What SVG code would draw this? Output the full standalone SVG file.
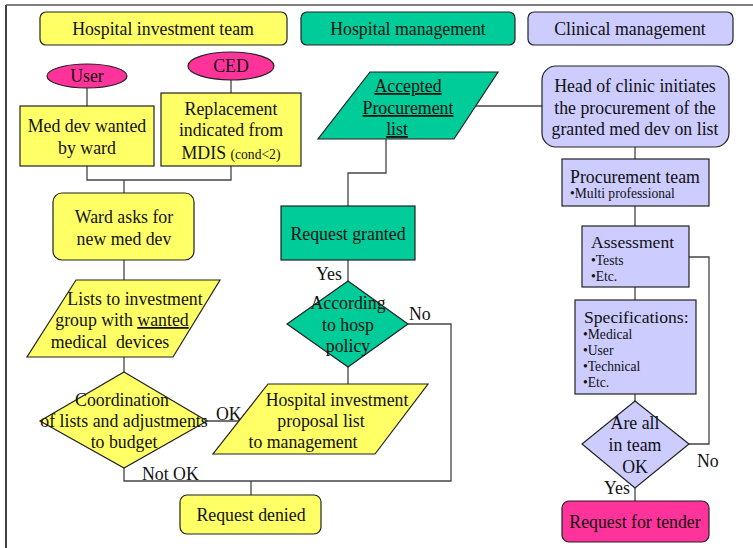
<svg xmlns="http://www.w3.org/2000/svg" width="753" height="548" viewBox="0 0 753 548">
<style>
text{font-family:"Liberation Serif",Tinos,"Times New Roman","DejaVu Serif",serif;font-size:17.8px;fill:#111;}
.c{text-anchor:middle;}
.s{font-size:13.6px;}
.b{font-size:17.6px;}
.yel{fill:#FFFF66;stroke:#222;stroke-width:1.2;}
.grn{fill:#00CC99;stroke:#222;stroke-width:1.2;}
.lav{fill:#CCCCFF;stroke:#222;stroke-width:1.2;}
.pnk{fill:#FF3399;stroke:#222;stroke-width:1.2;}
.con path{fill:none;stroke:#444;stroke-width:1.3;}
.u{text-decoration:underline;}
</style>
<rect width="753" height="548" fill="#fff"/>
<path d="M6 548 V5" stroke="#111" stroke-width="1.6" fill="none"/>
<path d="M6 5 H753" stroke="#555" stroke-width="1.6" fill="none"/>

<g class="con" id="connectors">
<path d="M87 88 V106"/>
<path d="M231 80 V93"/>
<path d="M87 166 V180 H231 V166"/>
<path d="M124 180 V193"/>
<path d="M124 260 V280"/>
<path d="M124 357 V372"/>
<path d="M207 421 H240"/>
<path d="M124 468 V481 H451 V324 H408"/>
<path d="M251 481 V495"/>
<path d="M386 139 V173 H348 V206"/>
<path d="M476 106 H542"/>
<path d="M348 260 V281"/>
<path d="M348 367 V384"/>
<path d="M635 147 V159"/>
<path d="M635 206 V226"/>
<path d="M635 287 V300"/>
<path d="M635 394 V401"/>
<path d="M635 488 V501"/>
<path d="M689 444 H709 V257 H689"/>
</g>

<g id="hdr-investment"><rect class="yel" x="40" y="12" width="247" height="33" rx="6"/><text class="c" x="163" y="35">Hospital investment team</text></g>
<g id="hdr-management"><rect class="grn" x="301" y="12" width="214" height="33" rx="6"/><text class="c" x="408" y="35">Hospital management</text></g>
<g id="hdr-clinical"><rect class="lav" x="528" y="12" width="205" height="33" rx="6"/><text class="c" x="630" y="35">Clinical management</text></g>

<g id="user"><ellipse class="pnk" cx="87" cy="76" rx="40" ry="12"/><text class="c" x="87" y="82">User</text></g>
<g id="ced"><ellipse class="pnk" cx="231" cy="66" rx="43" ry="14"/><text class="c" x="231" y="72">CED</text></g>

<g id="med-dev-wanted"><rect class="yel" x="20" y="106" width="134" height="60"/><text class="c" x="87" y="132">Med dev wanted</text><text class="c" x="87" y="154">by ward</text></g>
<g id="replacement"><rect class="yel" x="161" y="93" width="140" height="73"/><text class="c" x="231" y="115">Replacement</text><text class="c" x="231" y="136">indicated from</text><text class="c" x="231" y="159">MDIS <tspan class="s">(cond&lt;2)</tspan></text></g>

<g id="ward-asks"><rect class="yel" x="53" y="193" width="141" height="67" rx="9"/><text class="c" x="124" y="223">Ward asks for</text><text class="c" x="124" y="245">new med dev</text></g>

<g id="lists"><polygon class="yel" points="76,280 220,280 173,357 27,357"/><text class="c" x="135" y="305">Lists to investment</text><text class="c" x="122" y="326">group with <tspan class="u">wanted</tspan></text><text class="c" x="110" y="348" style="white-space:pre">medical  devices</text></g>

<g id="coordination"><polygon class="yel" points="124,372 207,421 124,468 40,421"/><text class="c" x="122" y="406">Coordination</text><text class="c" x="124" y="427">of lists and adjustments</text><text class="c" x="124" y="448">to budget</text></g>
<text x="216" y="420">OK</text>
<text x="142" y="480">Not OK</text>

<g id="proposal"><polygon class="yel" points="268,384 428,384 375,454 213,454"/><text class="c" x="337" y="406">Hospital investment</text><text class="c" x="321" y="427">proposal list</text><text class="c" x="303" y="448">to management</text></g>

<g id="request-denied"><rect class="yel" x="180" y="495" width="141" height="39" rx="7"/><text class="c" x="251" y="521">Request denied</text></g>

<g id="accepted"><polygon class="grn" points="370,72 498,72 454,139 318,139"/><text class="c u" x="408" y="92">Accepted</text><text class="c u" x="408" y="114">Procurement</text><text class="c u" x="397" y="135">list</text></g>

<g id="request-granted"><rect class="grn" x="281" y="206" width="134" height="54"/><text class="c" x="348" y="240">Request granted</text></g>
<text x="316" y="280">Yes</text>

<g id="policy"><polygon class="grn" points="348,281 408,324 348,367 287,324"/><text class="c" x="348" y="309">According</text><text class="c" x="348" y="331">to hosp</text><text class="c" x="348" y="352">policy</text></g>
<text x="409" y="320">No</text>

<g id="head-of-clinic"><rect class="lav" x="542" y="66" width="187" height="81" rx="14"/><text class="c" x="635" y="92">Head of clinic initiates</text><text class="c" x="635" y="114">the procurement of the</text><text class="c" x="635" y="135">granted med dev on list</text></g>

<g id="procurement-team"><rect class="lav" x="562" y="159" width="147" height="47"/><text class="c" x="635" y="183">Procurement team</text><text class="s" x="570" y="198">•Multi professional</text></g>

<g id="assessment"><rect class="lav" x="582" y="226" width="107" height="61"/><text class="b" x="591" y="248">Assessment</text><text class="s" x="591" y="265">•Tests</text><text class="s" x="591" y="281">•Etc.</text></g>

<g id="specifications"><rect class="lav" x="575" y="300" width="121" height="94"/><text class="b" x="584" y="323">Specifications:</text><text class="s" x="583" y="339">•Medical</text><text class="s" x="583" y="355">•User</text><text class="s" x="583" y="371">•Technical</text><text class="s" x="583" y="387">•Etc.</text></g>

<g id="are-all-ok"><polygon class="lav" points="635,401 689,444 635,488 582,444"/><text class="c" x="635" y="429">Are all</text><text class="c" x="635" y="451">in team</text><text class="c" x="635" y="473">OK</text></g>
<text x="697" y="467">No</text>
<text x="604" y="494">Yes</text>

<g id="request-tender"><rect class="pnk" x="562" y="501" width="147" height="41" rx="7"/><text class="c" x="635" y="528">Request for tender</text></g>
</svg>
